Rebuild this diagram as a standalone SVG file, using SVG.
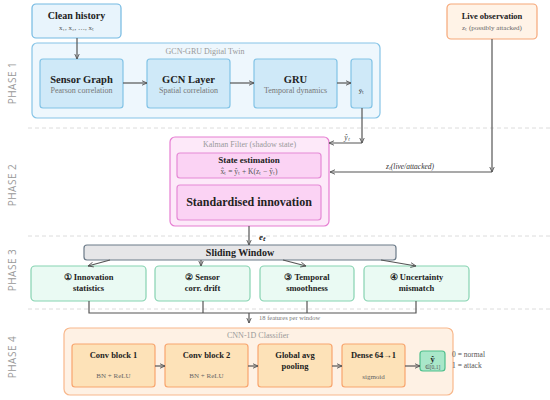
<svg xmlns="http://www.w3.org/2000/svg" width="550" height="400" viewBox="0 0 550 400">
<defs>
<marker id="ah" viewBox="0 0 10 10" refX="9" refY="5" markerWidth="6" markerHeight="6" orient="auto-start-reverse" markerUnits="userSpaceOnUse">
<path d="M0,1 L9,5 L0,9" fill="none" stroke="#555" stroke-width="1.5"/>
</marker>
<style>
text{font-family:"Liberation Serif","Times New Roman",serif;}
.ph{font-family:"Open Sans","Liberation Sans",sans-serif;font-size:10px;fill:#999;letter-spacing:0.5px;}
.sep{stroke:#dcdcdc;stroke-width:1;stroke-dasharray:4 3;fill:none;}
.b{font-weight:bold;fill:#222;}
.s{fill:#777;font-size:8px;}
.t{fill:#999;font-size:8px;}
.blue{fill:#cfe9f8;stroke:#82c3e6;stroke-width:1.2;}
.pink{fill:#fbd3f4;stroke:#e58ad6;stroke-width:1.2;}
.green{fill:#eafaf3;stroke:#86d3b1;stroke-width:1.2;}
.org{fill:#fde2b8;stroke:#f8a56e;stroke-width:1.2;}
.ln{stroke:#555;stroke-width:1.2;fill:none;}
.ar{stroke:#555;stroke-width:1.2;fill:none;marker-end:url(#ah);}
</style>
</defs>
<rect width="550" height="400" fill="#fff"/>

<g id="phase-labels">
<text class="ph" transform="translate(16,83) rotate(-90)" text-anchor="middle">PHASE 1</text>
<text class="ph" transform="translate(16,185) rotate(-90)" text-anchor="middle">PHASE 2</text>
<text class="ph" transform="translate(16,270) rotate(-90)" text-anchor="middle">PHASE 3</text>
<text class="ph" transform="translate(16,357) rotate(-90)" text-anchor="middle">PHASE 4</text>
</g>
<g id="separators">
<line class="sep" x1="28" y1="128" x2="550" y2="128"/>
<line class="sep" x1="28" y1="236" x2="550" y2="236"/>
<line class="sep" x1="28" y1="309" x2="550" y2="309"/>
</g>

<g id="clean-history">
<rect x="32" y="4" width="89" height="34" rx="4" fill="#e8f4fc" stroke="#74b9e2" stroke-width="1.2"/>
<text x="76.5" y="19" text-anchor="middle" class="b" font-size="10">Clean history</text>
<text x="76.5" y="30" text-anchor="middle" fill="#555" font-size="7">x₁, x₂, …, xₜ</text>
</g>
<g id="live-observation">
<rect x="447" y="4" width="90" height="35" rx="4" fill="#fff3e7" stroke="#f6a778" stroke-width="1.2"/>
<text x="492" y="18.5" text-anchor="middle" class="b" font-size="8.5">Live observation</text>
<text x="492" y="29.5" text-anchor="middle" fill="#666" font-size="7">zₜ (possibly attacked)</text>
</g>

<g id="digital-twin">
<rect x="32" y="43" width="348" height="75" rx="5" fill="#eef7fd" stroke="#86c4e7" stroke-width="1.2"/>
<text x="205" y="54" text-anchor="middle" class="t">GCN-GRU Digital Twin</text>
</g>
<g id="sensor-graph">
<rect class="blue" x="40" y="59" width="83" height="49" rx="3"/>
<text x="81.5" y="83" text-anchor="middle" class="b" font-size="10.5">Sensor Graph</text>
<text x="81.5" y="93" text-anchor="middle" class="s" font-size="7">Pearson correlation</text>
</g>
<g id="gcn-layer">
<rect class="blue" x="147" y="59" width="83" height="49" rx="3"/>
<text x="188.5" y="83" text-anchor="middle" class="b" font-size="10.5">GCN Layer</text>
<text x="188.5" y="93" text-anchor="middle" class="s" font-size="7">Spatial correlation</text>
</g>
<g id="gru">
<rect class="blue" x="254" y="59" width="83" height="49" rx="3"/>
<text x="295.5" y="83" text-anchor="middle" class="b" font-size="10.5">GRU</text>
<text x="295.5" y="93" text-anchor="middle" class="s" font-size="7">Temporal dynamics</text>
</g>
<g id="y-hat-out">
<rect class="blue" x="351" y="59" width="21" height="49" rx="3"/>
<text x="361.5" y="93" text-anchor="middle" fill="#333" font-size="7">ŷₜ</text>
</g>

<g id="kalman">
<rect x="170" y="137" width="159" height="89" rx="5" fill="#fde9f9" stroke="#e67ed2" stroke-width="1.2"/>
<text x="249.5" y="147" text-anchor="middle" class="t">Kalman Filter (shadow state)</text>
</g>
<g id="state-estimation">
<rect class="pink" x="177" y="153" width="144" height="25" rx="3"/>
<text x="249" y="163" text-anchor="middle" class="b" font-size="9">State estimation</text>
<text x="249" y="174" text-anchor="middle" fill="#555" font-size="7.5">x̂ₜ = ŷₜ + K(zₜ − ŷₜ)</text>
</g>
<g id="standardised-innovation">
<rect class="pink" x="177" y="185" width="144" height="35" rx="3"/>
<text x="249" y="206" text-anchor="middle" class="b" font-size="12">Standardised innovation</text>
</g>

<g id="sliding-window">
<rect x="84" y="245" width="312" height="15" rx="3" fill="#e6e6e8" stroke="#6b7a88" stroke-width="1.2"/>
<text x="240" y="256" text-anchor="middle" class="b" font-size="10">Sliding Window</text>
</g>
<g id="feat1">
<rect class="green" x="31" y="266" width="115" height="35" rx="4"/>
<text x="88.5" y="280" text-anchor="middle" class="b" font-size="8.5">① Innovation</text>
<text x="88.5" y="291" text-anchor="middle" class="b" font-size="8.5">statistics</text>
</g>
<g id="feat2">
<rect class="green" x="155" y="266" width="95" height="35" rx="4"/>
<text x="202.5" y="280" text-anchor="middle" class="b" font-size="8.5">② Sensor</text>
<text x="202.5" y="291" text-anchor="middle" class="b" font-size="8.5">corr. drift</text>
</g>
<g id="feat3">
<rect class="green" x="260" y="266" width="94" height="35" rx="4"/>
<text x="307" y="280" text-anchor="middle" class="b" font-size="8.5">③ Temporal</text>
<text x="307" y="291" text-anchor="middle" class="b" font-size="8.5">smoothness</text>
</g>
<g id="feat4">
<rect class="green" x="364" y="266" width="105" height="35" rx="4"/>
<text x="416.5" y="280" text-anchor="middle" class="b" font-size="8.5">④ Uncertainty</text>
<text x="416.5" y="291" text-anchor="middle" class="b" font-size="8.5">mismatch</text>
</g>

<g id="cnn">
<rect x="64" y="328" width="389" height="67" rx="6" fill="#fef1e4" stroke="#f8b88c" stroke-width="1.2"/>
<text x="258" y="338" text-anchor="middle" class="t">CNN-1D Classifier</text>
</g>
<g id="conv1">
<rect class="org" x="72" y="344" width="83" height="43" rx="3"/>
<text x="113.5" y="358" text-anchor="middle" class="b" font-size="8.5">Conv block 1</text>
<text x="113.5" y="378" text-anchor="middle" fill="#666" font-size="7">BN + ReLU</text>
</g>
<g id="conv2">
<rect class="org" x="165" y="344" width="83" height="43" rx="3"/>
<text x="206.5" y="358" text-anchor="middle" class="b" font-size="8.5">Conv block 2</text>
<text x="206.5" y="378" text-anchor="middle" fill="#666" font-size="7">BN + ReLU</text>
</g>
<g id="gap">
<rect class="org" x="258" y="344" width="74" height="43" rx="3"/>
<text x="295" y="358" text-anchor="middle" class="b" font-size="8.5">Global avg</text>
<text x="295" y="369" text-anchor="middle" class="b" font-size="8.5">pooling</text>
</g>
<g id="dense">
<rect class="org" x="342" y="344" width="63" height="43" rx="3"/>
<text x="373.5" y="358" text-anchor="middle" class="b" font-size="8.5">Dense 64→1</text>
<text x="373.5" y="379" text-anchor="middle" fill="#666" font-size="7">sigmoid</text>
</g>
<g id="output">
<rect x="420" y="351" width="25" height="20" rx="3" fill="#a9e7c9" stroke="#4fbf8c" stroke-width="1.2"/>
<text x="432.5" y="361.5" text-anchor="middle" class="b" font-size="8.5">ŷ</text>
<text x="432.5" y="369" text-anchor="middle" fill="#555" font-size="5.5">∈[0,1]</text>
<text x="452" y="357" fill="#555" font-size="7.5">0 = normal</text>
<text x="452" y="368" fill="#555" font-size="7.5">1 = attack</text>
</g>

<g id="connectors">
<line class="ar" x1="77" y1="38" x2="77" y2="59"/>
<line class="ar" x1="123" y1="83" x2="147" y2="83"/>
<line class="ar" x1="230" y1="83" x2="254" y2="83"/>
<line class="ar" x1="337" y1="83" x2="351" y2="83"/>
<line class="ar" x1="362" y1="108" x2="362" y2="143"/>
<line class="ar" x1="362" y1="143" x2="329" y2="143"/>
<text x="347" y="140" text-anchor="middle" fill="#444" font-size="7.5" font-style="italic">ŷₜ</text>
<line class="ar" x1="492" y1="39" x2="492" y2="172"/>
<line class="ar" x1="492" y1="172" x2="330" y2="172"/>
<text x="410" y="169" text-anchor="middle" fill="#333" font-size="7.5" font-style="italic">zₜ(live/attacked)</text>
<line class="ar" x1="249" y1="226" x2="249" y2="245"/>
<text x="262" y="240" text-anchor="middle" class="b" font-size="9" font-style="italic">eₜ</text>
<line class="ar" x1="110" y1="260" x2="88" y2="266"/>
<line class="ar" x1="201" y1="260" x2="201" y2="266"/>
<line class="ar" x1="283" y1="260" x2="306" y2="266"/>
<line class="ar" x1="381" y1="260" x2="416" y2="266"/>
<polyline class="ln" points="89,301 89,313 416,313 416,301"/>
<line class="ln" x1="203" y1="301" x2="203" y2="313"/>
<line class="ln" x1="307" y1="301" x2="307" y2="313"/>
<line class="ar" x1="249" y1="313" x2="249" y2="323"/>
<text x="259" y="320" fill="#777" font-size="6.5">18 features per window</text>
<line class="ar" x1="155" y1="366" x2="165" y2="366"/>
<line class="ar" x1="248" y1="366" x2="258" y2="366"/>
<line class="ar" x1="332" y1="366" x2="342" y2="366"/>
<line class="ar" x1="405" y1="366" x2="420" y2="366"/>
</g>
</svg>
